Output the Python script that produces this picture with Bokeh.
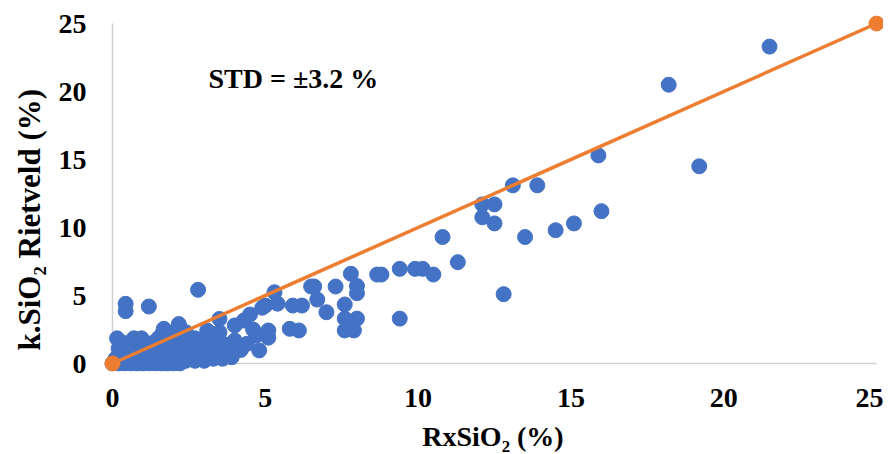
import math
from bokeh.plotting import figure
from bokeh.models import Range1d, FixedTicker, Label, Title
from bokeh.embed import file_html
from bokeh.resources import INLINE

# Scatter data: RxSiO2 (%) vs k.SiO2 Rietveld (%)
rx_sio2 = [
    21.5, 18.2, 19.2, 15.9, 16.0, 15.1, 14.5, 13.5, 13.1, 13.9,
    12.1, 12.5, 12.1, 12.5, 12.8, 10.8, 11.3, 10.5, 9.4, 9.9,
    10.15, 9.4, 8.8, 8.66, 7.8, 8.0, 8.0, 7.3, 6.5, 6.6,
    6.7, 7.6, 7.0, 7.6, 8.0, 7.6, 7.9, 5.9, 6.2, 5.3,
    5.4, 5.0, 4.9, 5.8, 6.1, 5.1, 4.8, 4.3, 4.0, 4.7,
    4.4, 4.0, 3.9, 2.8, 0.43, 0.43, 1.19, 3.5, 3.1, 4.5,
    4.6, 5.1, 4.2, 3.7,
    # dense cluster near the origin
    0.0, 0.2, 0.4, 0.6, 0.8, 1.0, 1.2, 1.4, 1.6, 1.8, 2.0, 2.2,
    2.4, 2.7, 3.0,
    0.1, 0.5, 0.9, 1.3, 1.7, 2.1, 2.5, 2.9, 3.3, 3.6,
    0.3, 0.7, 1.1, 1.5, 1.9, 2.3, 2.7, 3.1, 3.5,
    0.2, 0.6, 1.0, 1.4, 1.8, 2.2, 2.6, 3.0, 3.4, 3.7,
    0.4, 0.9, 1.3, 1.7, 2.1, 2.5, 2.9, 3.3,
    0.15, 0.7, 0.95, 1.5, 1.9, 2.3, 2.7, 3.2,
    1.65, 2.0, 2.4, 3.5, 1.68, 2.17,
]
k_sio2 = [
    23.3, 20.5, 14.5, 15.3, 11.2, 10.3, 9.8, 9.3, 13.1, 13.1,
    11.7, 11.7, 10.75, 10.3, 5.1, 9.3, 7.45, 6.54, 6.96, 6.96,
    6.96, 3.3, 6.54, 6.54, 6.6, 5.7, 5.17, 5.66, 5.66, 5.66,
    4.7, 4.34, 3.77, 3.3, 3.3, 2.43, 2.43, 4.26, 4.26, 5.24,
    4.4, 4.26, 4.1, 2.55, 2.43, 2.43, 0.96, 3.16, 2.8, 2.06,
    1.45, 1.69, 0.46, 5.42, 4.39, 3.85, 4.19, 3.28, 2.43, 3.6,
    2.5, 1.9, 1.0, 1.4,
    0.0, 0.0, 0.0, 0.0, 0.0, 0.0, 0.0, 0.0, 0.0, 0.0, 0.0, 0.0,
    0.2, 0.2, 0.2,
    0.35, 0.35, 0.35, 0.35, 0.35, 0.35, 0.35, 0.35, 0.35, 0.35,
    0.7, 0.7, 0.7, 0.7, 0.7, 0.7, 0.7, 0.7, 0.7,
    1.1, 1.1, 1.1, 1.1, 1.1, 1.1, 1.1, 1.1, 1.1, 1.1,
    1.5, 1.5, 1.5, 1.5, 1.5, 1.5, 1.5, 1.5,
    1.85, 1.85, 1.85, 1.85, 1.85, 1.85, 1.85, 1.85,
    2.3, 2.3, 2.3, 2.3, 2.55, 2.9,
]

# 1:1 reference line
ref_x = [0, 25]
ref_y = [0, 25]

ticks = [0, 5, 10, 15, 20, 25]
std_text = "STD = \u00b13.2 %"
x_title = "RxSiO\u2082 (%)"
y_title = "k.SiO\u2082 Rietveld (%)"

BLUE = "#4472C4"
ORANGE = "#ED7D31"
FONT = "Liberation Serif"
FS = "28px"

p = figure(width=883, height=454, output_backend="svg", toolbar_location=None,
           x_range=Range1d(-10 / 30.56, 25 + 7 / 30.56),
           y_range=Range1d(-8 / 13.6, 25 + 8 / 13.6),
           min_border_left=102, min_border_right=0,
           min_border_top=15, min_border_bottom=83)
p.outline_line_color = None
p.grid.grid_line_color = None
p.background_fill_color = "white"

for ax in (p.xaxis, p.yaxis):
    ax.ticker = FixedTicker(ticks=ticks)
    ax.axis_line_color = None
    ax.major_tick_line_color = None
    ax.minor_tick_line_color = None
    ax.major_label_text_font = FONT
    ax.major_label_text_font_style = "bold"
    ax.major_label_text_font_size = FS
    ax.major_label_text_color = "black"
p.xaxis.major_label_standoff = 11
p.yaxis.major_label_standoff = 10

p.xaxis.axis_label = x_title
p.xaxis.axis_label_text_font = FONT
p.xaxis.axis_label_text_font_style = "bold"
p.xaxis.axis_label_text_font_size = FS
p.xaxis.axis_label_text_color = "black"
p.xaxis.axis_label_standoff = 11

p.add_layout(Title(text=y_title, align="left", offset=21, standoff=18,
                   text_font=FONT, text_font_style="bold",
                   text_font_size="31px", text_color="black"), "left")

# axis lines at zero
p.segment(x0=[0, 0], y0=[0, 0], x1=[0, 25], y1=[25, 0],
          line_color="#D0D0D0", line_width=1.5)

p.scatter(rx_sio2, k_sio2, size=15, fill_color=BLUE, line_color=BLUE)

p.line(ref_x, ref_y, line_color=ORANGE, line_width=3.5)
p.scatter(ref_x, ref_y, size=15, fill_color=ORANGE, line_color=ORANGE)

p.add_layout(Label(x=106, y=293, x_units="screen", y_units="screen",
                   text=std_text, text_font=FONT, text_font_style="bold",
                   text_font_size=FS, text_align="left",
                   text_baseline="middle", text_color="black"))

open("out.html", "w").write(file_html(p, INLINE))
